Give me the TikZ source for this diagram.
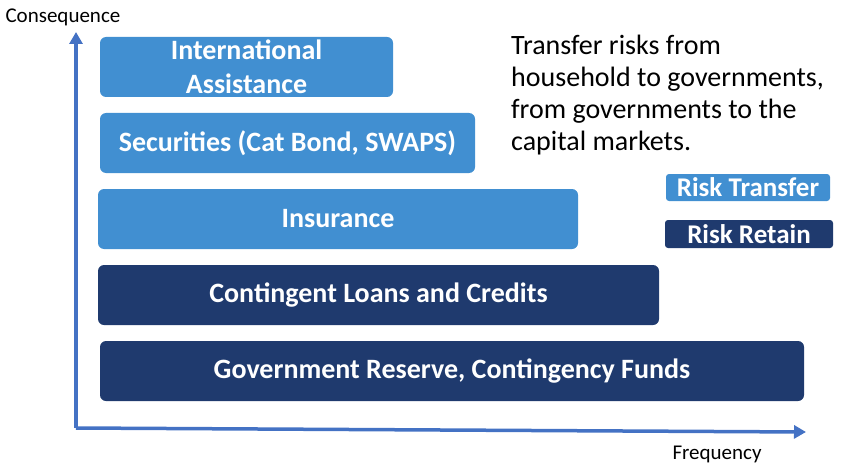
\documentclass[tikz,border=0pt]{standalone}
\usepackage{fontspec}
\setmainfont{Carlito}
\definecolor{transferblue}{RGB}{65,143,209}
\definecolor{retainblue}{RGB}{31,58,110}
\definecolor{axisblue}{RGB}{68,114,196}
\tikzset{
  riskbox/.style={rounded corners=6pt, inner sep=0pt, text=white,
    font=\fontsize{28}{34}\selectfont\bfseries, align=center},
  transfer/.style={riskbox, fill=transferblue},
  retain/.style={riskbox, fill=retainblue},
  keybox/.style={rounded corners=3pt, inner sep=0pt, text=white,
    font=\fontsize{27}{28}\selectfont\bfseries},
  axis/.style={axisblue, line width=3.5pt, -{Triangle[length=12pt,width=13pt]}},
  axislabel/.style={anchor=west, font=\fontsize{21}{24}\selectfont},
}
\usetikzlibrary{arrows.meta}
\begin{document}
\begin{tikzpicture}[x=1pt,y=-1pt]
    \useasboundingbox (0,0) rectangle (848,476);

    \coordinate (origin) at (76,428);
    \coordinate (ytop) at (76,32);
    \coordinate (xend) at (806,432);
    \draw[axis] (origin) -- (ytop);
    \draw[axis] (origin) -- (xend);
    \node[axislabel] (cons) at (2,17) {Consequence};
    \node[axislabel] (freq) at (669,454) {Frequency};

    \node[transfer, minimum width=293pt, minimum height=60pt] (intl) at (246.5,67) {International\\Assistance};
    \node[transfer, minimum width=375pt, minimum height=60pt] (secu) at (287.5,143) {Securities (Cat Bond, SWAPS)};
    \node[transfer, minimum width=480pt, minimum height=60pt] (insu) at (338,219) {Insurance};
    \node[retain, minimum width=561pt, minimum height=60pt] (loan) at (378.5,295) {Contingent Loans and Credits};
    \node[retain, minimum width=704pt, minimum height=60pt] (resv) at (452,371) {Government Reserve, Contingency Funds};

    \node[anchor=north west, align=left, inner sep=0pt, font=\fontsize{28}{32}\selectfont] (note) at (511,35)
        {Transfer risks from\\household to governments,\\from governments to the\\capital markets.};

    \node[keybox, fill=transferblue, minimum width=164pt, minimum height=27pt] (ktrans) at (748,187.5) {Risk Transfer};
    \node[keybox, fill=retainblue, minimum width=168pt, minimum height=28pt] (kretn) at (749,234) {Risk Retain};
\end{tikzpicture}
\end{document}
